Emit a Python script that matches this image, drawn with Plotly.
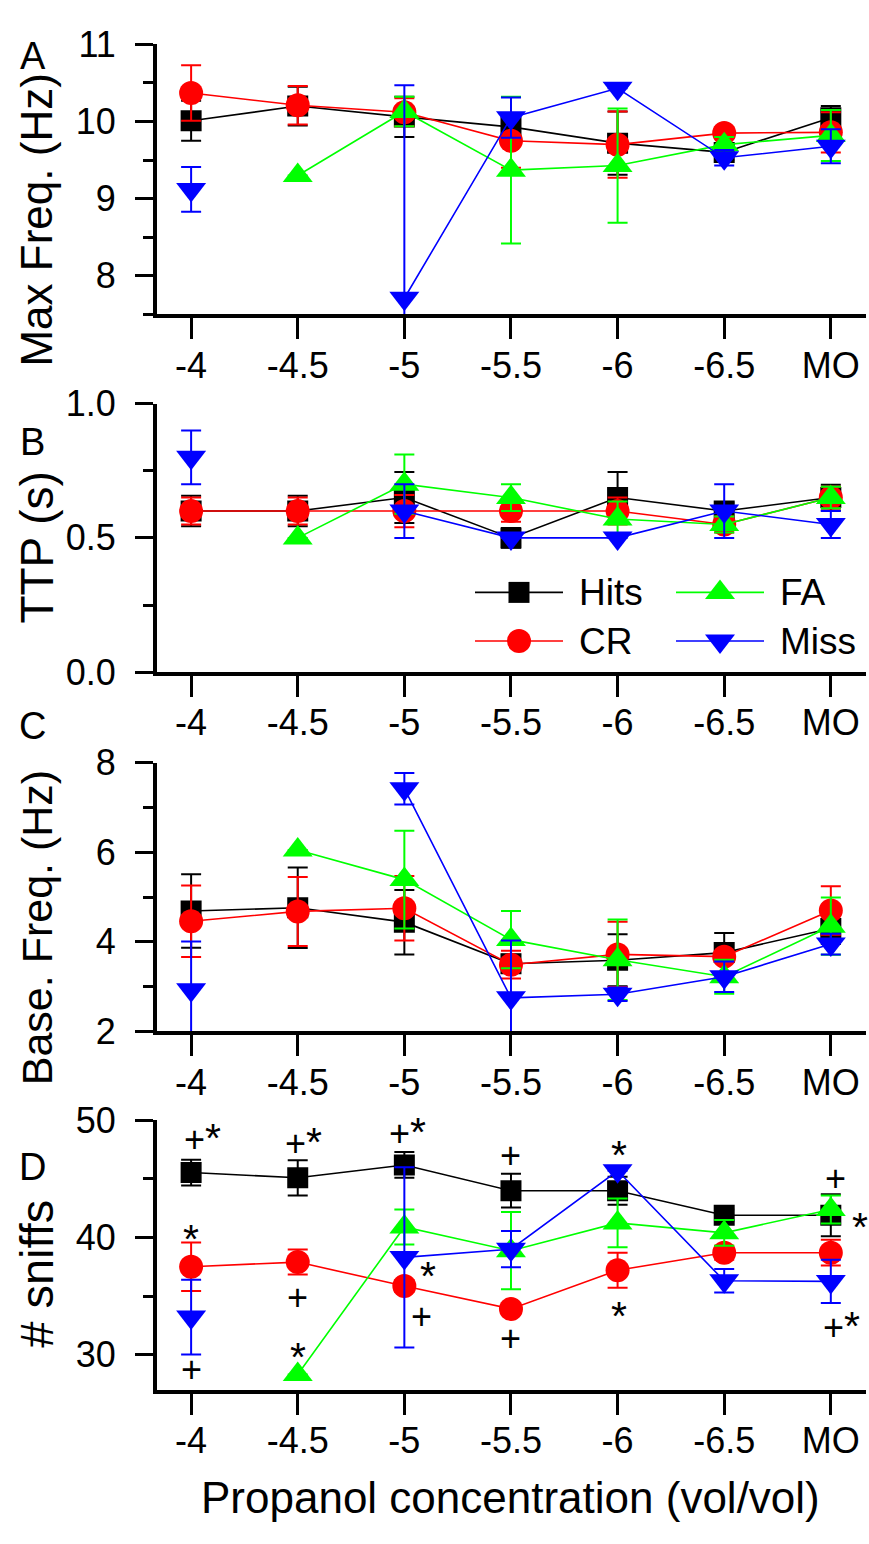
import plotly.graph_objects as go

# Odour concentration (log10 vol/vol) and mineral oil control
categories = ["-4", "-4.5", "-5", "-5.5", "-6", "-6.5", "MO"]
outcomes = ["Hits", "CR", "FA", "Miss"]

# A: maximum sniff frequency (Hz), mean and s.e.m.
maxfreq_hits = [10.01, 10.20, 10.06, 9.93, 9.72, 9.60, 10.05]
maxfreq_hits_err = [0.26, 0.25, 0.26, 0.18, 0.41, 0.10, 0.15]
maxfreq_cr = [10.37, 10.21, 10.12, 9.75, 9.70, 9.85, 9.86]
maxfreq_cr_err = [0.36, 0.25, 0.18, 0.35, 0.43, 0.06, 0.26]
maxfreq_fa = [None, 9.30, 10.13, 9.37, 9.43, 9.70, 9.82]
maxfreq_fa_err = [None, 0, 0.19, 0.95, 0.74, 0.10, 0.33]
maxfreq_miss = [9.12, None, 7.71, 10.05, 10.43, 9.53, 9.68]
maxfreq_miss_err = [0.29, None, 2.76, 0.26, 0, 0.10, 0.22]

# B: time to peak (s)
ttp_hits = [0.60, 0.60, 0.65, 0.50, 0.65, 0.60, 0.65]
ttp_hits_err = [0.057, 0.057, 0.095, 0.037, 0.095, 0.03, 0.048]
ttp_cr = [0.60, 0.60, 0.60, 0.60, 0.60, 0.55, 0.65]
ttp_cr_err = [0.05, 0.05, 0.06, 0.04, 0.05, 0.03, 0.04]
ttp_fa = [None, 0.50, 0.70, 0.65, 0.57, 0.55, 0.65]
ttp_fa_err = [None, 0, 0.11, 0.05, 0.065, 0.03, 0.04]
ttp_miss = [0.80, None, 0.60, 0.50, 0.50, 0.60, 0.55]
ttp_miss_err = [0.10, None, 0.10, 0, 0, 0.10, 0.05]

# C: baseline sniff frequency (Hz)
base_hits = [4.69, 4.76, 4.44, 3.51, 3.59, 3.76, 4.30]
base_hits_err = [0.82, 0.90, 0.72, 0.20, 0.58, 0.44, 0.35]
base_cr = [4.46, 4.68, 4.75, 3.49, 3.72, 3.67, 4.70]
base_cr_err = [0.80, 0.77, 0.72, 0.31, 0.73, 0.10, 0.54]
base_fa = [None, 6.05, 5.39, 4.05, 3.60, 3.22, 4.35]
base_fa_err = [None, 0, 1.09, 0.64, 0.90, 0.38, 0.64]
base_miss = [2.93, None, 7.42, 2.75, 2.83, 3.22, 3.95]
base_miss_err = [1.08, None, 0.35, 1.28, 0.15, 0.34, 0.23]

# D: number of sniffs
sniffs_hits = [45.55, 45.10, 46.20, 44.00, 44.00, 41.90, 41.90]
sniffs_hits_err = [1.10, 1.50, 1.10, 1.44, 1.20, 0.50, 1.80]
sniffs_cr = [37.50, 37.90, 35.85, 33.90, 37.20, 38.70, 38.70]
sniffs_cr_err = [2.08, 1.07, 0.50, 0.40, 1.50, 0.60, 1.10]
sniffs_fa = [None, 28.30, 40.90, 38.87, 41.25, 40.40, 42.40]
sniffs_fa_err = [None, 0, 1.50, 3.30, 2.08, 1.10, 1.20]
sniffs_miss = [33.20, None, 38.30, 39.00, 45.70, 36.30, 36.25]
sniffs_miss_err = [3.20, None, 7.70, 1.55, 0, 1.00, 1.85]

# Significance marks in D (category position, value, label)
sig_x = [0.11, 1.05, 2.03, 3.0, 4.01, 6.04, 6.27, 0.0, 1.0, 2.16, 2.22, 3.0, 4.01, 6.1, 0.0, 1.0]
sig_y = [48.5, 48.15, 49.0, 47.0, 47.8, 45.05, 41.65, 40.6, 34.85, 33.25, 37.45, 31.35, 34.1, 32.4, 28.7, 30.55]
sig_text = ["+*", "+*", "+*", "+", "*", "+", "*", "*", "+", "+", "*", "+", "*", "+*", "+", "*"]

W, H = 869, 1544
FONT = "Liberation Sans, Arial, Helvetica, sans-serif"

styles = {
    "Hits": dict(color="#000000", symbol="square", size=21),
    "CR": dict(color="#FF0000", symbol="circle", size=24),
    "FA": dict(color="#00FF00", symbol="triangle-up", size=26),
    "Miss": dict(color="#0000FF", symbol="triangle-down", size=26),
}

panels = [
    dict(letter="A", title="Max Freq. (Hz)", top=25, bottom=302.5, yrange=[7.5, 11],
         dtick=1, minor=0.5, fmt="", title_y=206, title_size=44, letter_y=37,
         series={"Hits": (maxfreq_hits, maxfreq_hits_err), "CR": (maxfreq_cr, maxfreq_cr_err),
                 "FA": (maxfreq_fa, maxfreq_fa_err), "Miss": (maxfreq_miss, maxfreq_miss_err)}),
    dict(letter="B", title="TTP (s)", top=394, bottom=670, yrange=[0, 1],
         dtick=0.5, minor=0.25, fmt=".1f", title_y=542, title_size=46, letter_y=433,
         series={"Hits": (ttp_hits, ttp_hits_err), "CR": (ttp_cr, ttp_cr_err),
                 "FA": (ttp_fa, ttp_fa_err), "Miss": (ttp_miss, ttp_miss_err)}),
    dict(letter="C", title="Base. Freq. (Hz)", top=763, bottom=1039, yrange=[2, 8],
         dtick=2, minor=1, fmt="", title_y=933, title_size=43, letter_y=725,
         series={"Hits": (base_hits, base_hits_err), "CR": (base_cr, base_cr_err),
                 "FA": (base_fa, base_fa_err), "Miss": (base_miss, base_miss_err)}),
    dict(letter="D", title="# sniffs", top=1130.5, bottom=1407, yrange=[27, 50],
         dtick=10, minor=5, fmt="", title_y=1288, title_size=47, letter_y=1178,
         series={"Hits": (sniffs_hits, sniffs_hits_err), "CR": (sniffs_cr, sniffs_cr_err),
                 "FA": (sniffs_fa, sniffs_fa_err), "Miss": (sniffs_miss, sniffs_miss_err)}),
]

x_pos = list(range(len(categories)))
x_left, x_right = 157, 866

fig = go.Figure()
annotations = []

for i, p in enumerate(panels):
    n = "" if i == 0 else str(i + 1)
    for name in outcomes:
        vals, errs = p["series"][name]
        st = styles[name]
        fig.add_trace(go.Scatter(
            x=x_pos, y=vals, mode="lines+markers", name=name, showlegend=False,
            xaxis="x" + n, yaxis="y" + n,
            line=dict(color=st["color"], width=1.6),
            marker=dict(symbol=st["symbol"], size=st["size"], color=st["color"],
                        line=dict(width=0)),
            error_y=dict(type="data", array=errs, visible=True, color=st["color"],
                         thickness=2, width=10),
        ))
    common_ax = dict(showline=True, linecolor="black", linewidth=4, ticks="outside",
                     tickcolor="black", tickwidth=3, showgrid=False, zeroline=False,
                     tickfont=dict(family=FONT, size=36, color="black"))
    fig.update_layout({
        "xaxis" + n: dict(domain=[x_left / W, x_right / W], range=[-0.32, 6.33],
                          anchor="y" + n, tickvals=x_pos, ticktext=categories,
                          ticklen=21, ticklabelstandoff=-5, **common_ax),
        "yaxis" + n: dict(domain=[1 - p["bottom"] / H, 1 - p["top"] / H], range=p["yrange"],
                          anchor="x" + n, dtick=p["dtick"], tick0=0, tickformat=p["fmt"],
                          ticklen=18, ticklabelstandoff=12,
                          minor=dict(dtick=p["minor"], tick0=0, ticks="outside", ticklen=10,
                                     tickwidth=3, tickcolor="black"),
                          **common_ax),
    })
    annotations.append(dict(text=p["letter"], xref="paper", yref="paper", x=32.5 / W,
                            y=1 - p["letter_y"] / H, xanchor="center", yanchor="middle",
                            showarrow=False, font=dict(family=FONT, size=38, color="black")))
    annotations.append(dict(text=p["title"], xref="paper", yref="paper", x=37 / W,
                            y=1 - p["title_y"] / H, xanchor="center", yanchor="middle",
                            textangle=-90, showarrow=False,
                            font=dict(family=FONT, size=p["title_size"], color="black")))

# significance marks on panel D; the asterisk is set a little larger than the plus
for sx, sy, t in zip(sig_x, sig_y, sig_text):
    label = t.replace("*", "<span style='font-size:41px'>*</span>")
    annotations.append(dict(text=label, x=sx, y=sy, xref="x4", yref="y4", showarrow=False,
                            xanchor="center", yanchor="middle",
                            yshift=-9 if t == "*" else 0,
                            font=dict(family=FONT, size=36, color="black")))

# shared x-axis title
annotations.append(dict(text="Propanol concentration (vol/vol)", xref="paper", yref="paper",
                        x=510 / W, y=1 - 1518 / H, xanchor="center", yanchor="middle",
                        showarrow=False, font=dict(family=FONT, size=44, color="black")))

# legend key drawn on a pixel-scaled overlay axis inside panel B
key_cols = {"Hits": (475, 588), "FA": (676, 588), "CR": (475, 638), "Miss": (676, 638)}
key_len = 88
for name in outcomes:
    x0, yk = key_cols[name]
    st = styles[name]
    fig.add_trace(go.Scatter(x=[x0, x0 + key_len], y=[yk, yk], mode="lines",
                             line=dict(color=st["color"], width=1.6), showlegend=False,
                             xaxis="x5", yaxis="y5", hoverinfo="skip"))
    fig.add_trace(go.Scatter(x=[x0 + key_len / 2], y=[yk], mode="markers", showlegend=False,
                             marker=dict(symbol=st["symbol"], size=st["size"], color=st["color"]),
                             xaxis="x5", yaxis="y5", hoverinfo="skip"))
    annotations.append(dict(text=name, x=x0 + key_len + 14, y=yk, xref="x5", yref="y5",
                            xanchor="left", yanchor="middle", showarrow=False,
                            font=dict(family=FONT, size=37, color="black")))

fig.update_layout(
    xaxis5=dict(domain=[0, 1], range=[0, W], visible=False, anchor="y5", fixedrange=True),
    yaxis5=dict(domain=[0, 1], range=[H, 0], visible=False, anchor="x5", fixedrange=True),
    width=W, height=H, margin=dict(l=0, r=0, t=0, b=0),
    paper_bgcolor="white", plot_bgcolor="rgba(0,0,0,0)",
    annotations=annotations, showlegend=False,
    font=dict(family=FONT, color="black"),
)

fig.write_html("out.html")
